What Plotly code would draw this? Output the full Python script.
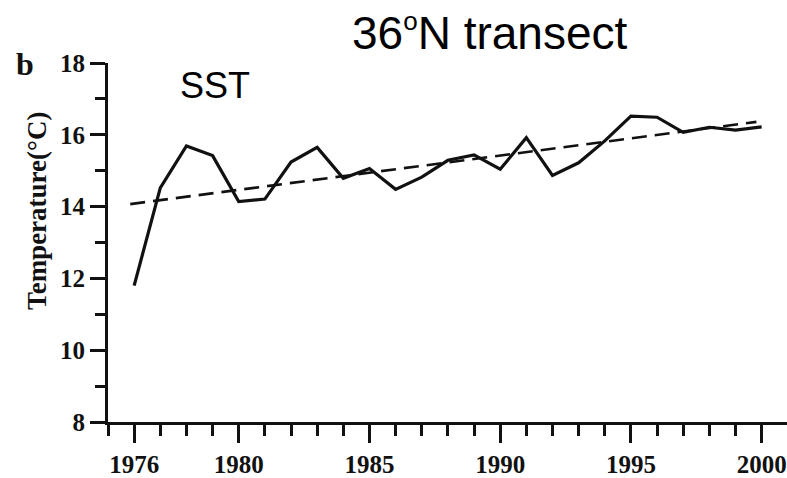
import plotly.graph_objects as go

years = list(range(1976, 2001))
sst = [11.80, 14.52, 15.69, 15.42, 14.14, 14.21, 15.24, 15.65, 14.79, 15.06,
       14.48, 14.82, 15.29, 15.44, 15.04, 15.92, 14.87, 15.22, 15.83, 16.52,
       16.49, 16.07, 16.21, 16.13, 16.22]
trend_years = [1975.85, 1999.8]
trend_vals = [14.07, 16.36]

x_major = [1976, 1980, 1985, 1990, 1995, 2000]
x_minor = [1975, 1977, 1978, 1979, 1981, 1982, 1983, 1984, 1986, 1987, 1988, 1989,
           1991, 1992, 1993, 1994, 1996, 1997, 1998, 1999]
y_major = [8, 10, 12, 14, 16, 18]
y_minor = [9, 11, 13, 15, 17]

fig = go.Figure()
fig.add_trace(go.Scatter(x=trend_years, y=trend_vals, mode="lines",
                         line=dict(color="#111", width=2.6, dash="15px,8px"),
                         showlegend=False))
fig.add_trace(go.Scatter(x=years, y=sst, mode="lines",
                         line=dict(color="#111", width=3.2),
                         showlegend=False))

tickfont = dict(family="Liberation Serif", size=25, color="#111", weight="bold")

fig.update_layout(
    width=787, height=478,
    margin=dict(l=108, r=0, t=63, b=46),
    paper_bgcolor="white", plot_bgcolor="white",
    xaxis=dict(range=[1975, 2000.97], tickmode="array", tickvals=x_major,
               ticks="outside", ticklen=18, tickwidth=2.5, tickcolor="#111",
               showline=True, linecolor="#111", linewidth=3,
               showgrid=False, zeroline=False, tickfont=tickfont,
               minor=dict(tickmode="array", tickvals=x_minor, ticks="outside",
                          ticklen=11, tickwidth=2.5, tickcolor="#111", showgrid=False)),
    yaxis=dict(range=[8, 18], tickmode="array", tickvals=y_major,
               ticks="outside", ticklen=15, tickwidth=2.5, tickcolor="#111",
               showline=True, linecolor="#111", linewidth=3,
               showgrid=False, zeroline=False, tickfont=tickfont,
               minor=dict(tickmode="array", tickvals=y_minor, ticks="outside",
                          ticklen=10, tickwidth=2.5, tickcolor="#111", showgrid=False)),
    annotations=[
        dict(text="36<sup><span style='font-size:26px'>o</span></sup>N transect",
             xref="paper", yref="paper",
             x=(489 - 108) / 679, y=(432 - 32) / 369, xanchor="center", yanchor="middle",
             showarrow=False, font=dict(family="Liberation Sans", size=46, color="black")),
        dict(text="SST", xref="paper", yref="paper",
             x=(215 - 108) / 679, y=(432 - 86) / 369, xanchor="center", yanchor="middle",
             showarrow=False, font=dict(family="Liberation Sans", size=36, color="black")),
        dict(text="b", xref="paper", yref="paper",
             x=(25 - 108) / 679, y=(432 - 64) / 369, xanchor="center", yanchor="middle",
             showarrow=False, font=dict(family="Liberation Serif", size=32, color="#111", weight="bold")),
        dict(text="Temperature(°C)", xref="paper", yref="paper", textangle=-90,
             x=(37 - 108) / 679, y=(432 - 215) / 369, xanchor="center", yanchor="middle",
             showarrow=False, font=dict(family="Liberation Serif", size=27, color="#111", weight="bold")),
    ],
)

fig.write_html("out.html")
